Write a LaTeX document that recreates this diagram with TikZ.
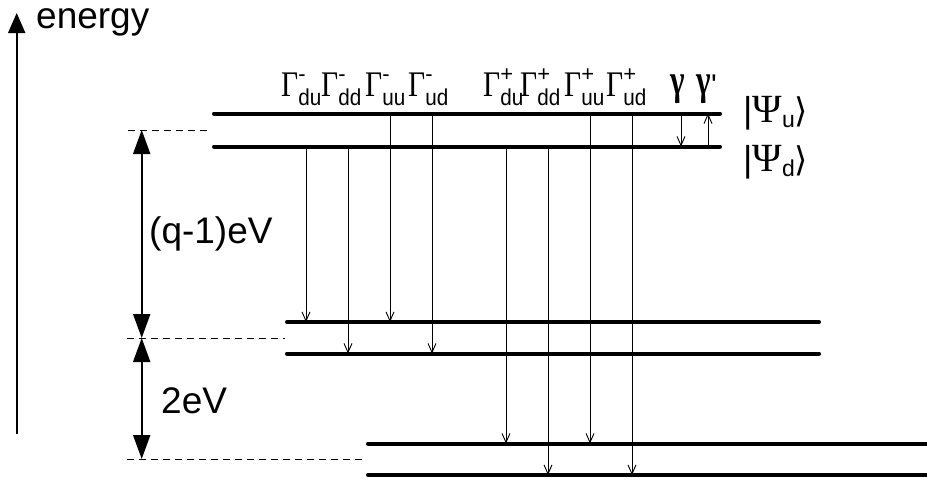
\documentclass[tikz,border=0pt]{standalone}
\usepackage{fontspec}
\setmainfont{Liberation Sans}
\newfontfamily\serifG{Liberation Serif}
\newfontfamily\dvfont{DejaVu Sans}
\usetikzlibrary{arrows.meta}
\newcommand\Gm[2]{\scalebox{0.82}[1]{\serifG\fontsize{36}{36}\selectfont Γ}\rlap{\raisebox{15pt}{\fontsize{22}{22}\selectfont #1}}\raisebox{-9pt}{\scalebox{0.9}[1]{\fontsize{23}{23}\selectfont #2}}}
\newcommand\Ket[1]{{\fontsize{36}{36}\selectfont|}{\serifG\fontsize{40}{40}\selectfont Ψ}\raisebox{-5pt}{\fontsize{23}{23}\selectfont #1}{\dvfont\fontsize{34}{34}\selectfont ⟩}}
\begin{document}
\begin{tikzpicture}[x=1pt,y=-1pt,
  level/.style={line width=4pt,line cap=round},
  trans/.style={line width=0.9pt,-{Straight Barb[length=9pt,width=8pt,line width=0.9pt]}},
  gapar/.style={line width=2pt,{Triangle[length=24pt,width=17pt]}-{Triangle[length=24pt,width=17pt]}},
  guide/.style={line width=0.8pt,dash pattern=on 7pt off 5pt},
  lab/.style={inner sep=0pt,anchor=base west,font=\fontsize{37}{37}\selectfont},
  glab/.style={inner sep=0pt,anchor=base west}]
\useasboundingbox (0,0) rectangle (927,483);

% energy axis
\coordinate (axB) at (16.7,434);
\coordinate (axT) at (16.7,13);
\draw[line width=2pt,-{Triangle[length=20pt,width=17pt]}] (axB) -- (axT);
\node[lab,text height=20pt] (energy) at (36,28) {energy};

% levels
\coordinate (u1L) at (214,113.5); \coordinate (u1R) at (720,113.5);
\coordinate (d1L) at (214,146.5); \coordinate (d1R) at (720,146.5);
\coordinate (u2L) at (287,322);   \coordinate (u2R) at (819,322);
\coordinate (d2L) at (287,353.5); \coordinate (d2R) at (819,353.5);
\coordinate (u3L) at (368,443.5); \coordinate (u3R) at (930,443.5);
\coordinate (d3L) at (368,475);   \coordinate (d3R) at (930,475);
\foreach \a in {u1,d1,u2,d2,u3,d3} \draw[level] (\a L) -- (\a R);

% guide lines
\coordinate (g1L) at (128,130);   \coordinate (g1R) at (207,130);
\coordinate (g2L) at (127,338);   \coordinate (g2R) at (285,338);
\coordinate (g3L) at (127,459);   \coordinate (g3R) at (365,459);
\foreach \a in {g1,g2,g3} \draw[guide] (\a L) -- (\a R);

% energy gaps
\coordinate (gx) at (141.7,0);
\draw[gapar] (gx |- g1L) -- (gx |- g2L);
\draw[gapar] (gx |- g2L) -- (gx |- g3L);
\node[lab] (qlab) at (149,243) {(q-1)eV};
\node[lab] (twolab) at (161,413) {2eV};

% transitions to middle pair
\coordinate (xa) at (306,0); \coordinate (xb) at (348,0);
\coordinate (xc) at (390,0); \coordinate (xd) at (432,0);
\draw[trans] (xa |- d1L) -- (xa |- u2L);
\draw[trans] (xb |- d1L) -- (xb |- d2L);
\draw[trans] (xc |- u1L) -- (xc |- u2L);
\draw[trans] (xd |- u1L) -- (xd |- d2L);
% transitions to bottom pair
\coordinate (xe) at (506,0); \coordinate (xf) at (548,0);
\coordinate (xg) at (590,0); \coordinate (xh) at (632,0);
\draw[trans] (xe |- d1L) -- (xe |- u3L);
\draw[trans] (xf |- d1L) -- (xf |- d3L);
\draw[trans] (xg |- u1L) -- (xg |- u3L);
\draw[trans] (xh |- u1L) -- (xh |- d3L);
% gamma transitions
\coordinate (xi) at (681,0); \coordinate (xj) at (708,0);
\draw[trans] (xi |- u1L) -- (xi |- d1L);
\draw[trans] (xj |- d1L) -- (xj |- u1L);

% rate labels
\node[glab] (Gmdu) at (281,96) {\Gm{-}{du}};
\node[glab] (Gmdd) at (321,96) {\Gm{-}{dd}};
\node[glab] (Gmuu) at (365,96) {\Gm{-}{uu}};
\node[glab] (Gmud) at (408,96) {\Gm{-}{ud}};
\node[glab] (Gpdu) at (483,96) {\Gm{+}{du}};
\node[glab] (Gpdd) at (520,96) {\Gm{+}{dd}};
\node[glab] (Gpuu) at (564,96) {\Gm{+}{uu}};
\node[glab] (Gpud) at (606,96) {\Gm{+}{ud}};
\node[glab] (gam) at (670,94) {\scalebox{0.72}[1]{\serifG\bfseries\fontsize{43}{43}\selectfont γ}};
\node[glab] (gamp) at (696,94) {\scalebox{0.72}[1]{\serifG\bfseries\fontsize{43}{43}\selectfont γ}\kern0.5pt\raisebox{-1pt}{\fontsize{30}{30}\selectfont\textquotesingle}};

% state labels
\node[glab] (psiu) at (743,122) {\Ket{u}};
\node[glab] (psid) at (743,171) {\Ket{d}};
\end{tikzpicture}
\end{document}
